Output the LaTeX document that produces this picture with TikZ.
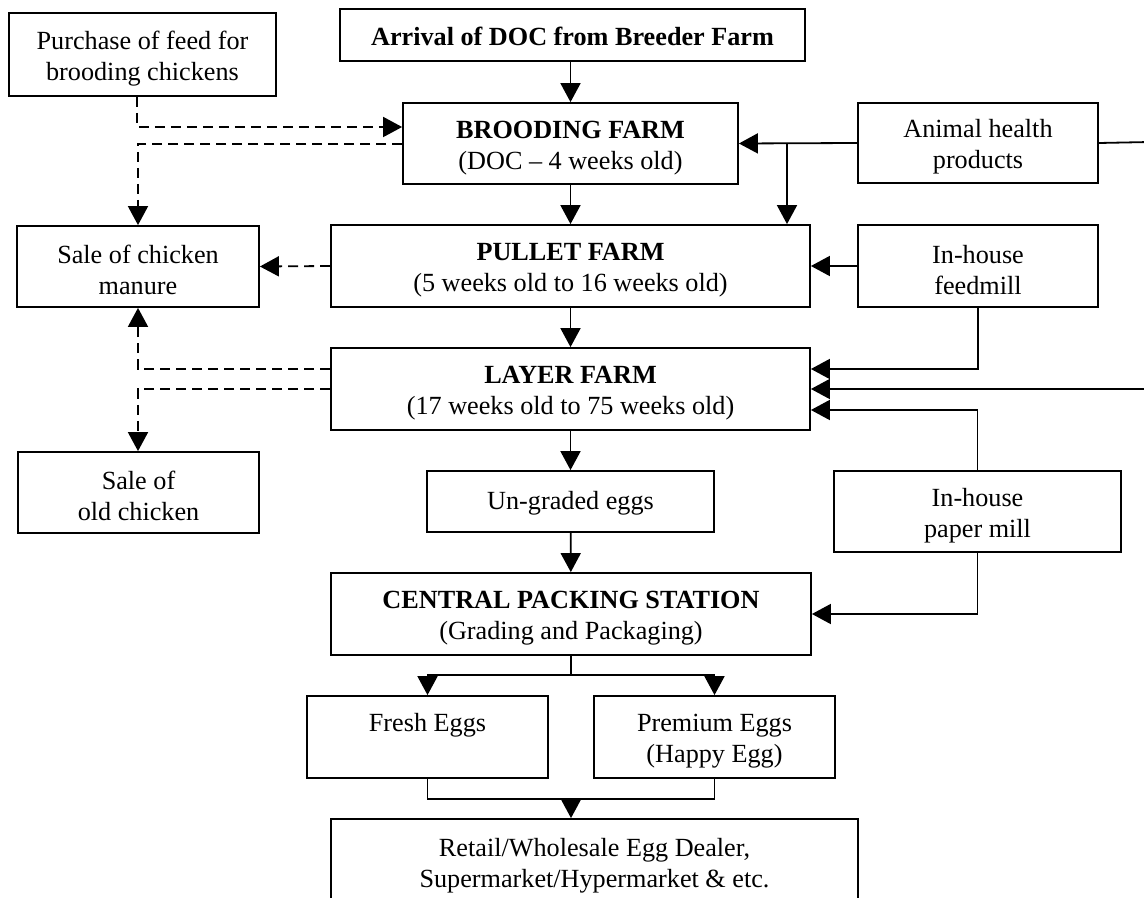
\documentclass[tikz,border=0pt]{standalone}
\usepackage{fontspec}
\setmainfont{Liberation Serif}
\usetikzlibrary{arrows.meta}
\begin{document}
\begin{tikzpicture}[x=0.5pt,y=-0.5pt,
  box/.style={draw,line width=0.9pt,inner sep=0pt,align=center,
    font=\fontsize{13.1}{15.5}\selectfont},
  % a tall invisible rule beside the text sets it slightly below the centre
  oneline/.style={box,execute at begin node={\rule{0pt}{11pt}}},
  twoline/.style={box,execute at begin node={\rule{0pt}{28.6pt}}},
  flow/.style={line width=0.9pt,-{Triangle[length=9.5pt,width=10pt]}},
  plain/.style={line width=0.9pt},
  side/.style={flow,dash pattern=on 5pt off 3pt},
]
\useasboundingbox (0,0) rectangle (1144,898);
\clip (0,0) rectangle (1144,898);

% main chain
\node[oneline,minimum width=232.5pt,minimum height=26pt] (arrival) at (572.5,35) {\textbf{Arrival of DOC from Breeder Farm}};
\node[twoline,minimum width=167.5pt,minimum height=40.5pt] (brooding) at (570.5,143.5) {\textbf{BROODING FARM}\\(DOC -- 4 weeks old)};
\node[twoline,minimum width=239.5pt,minimum height=41pt] (pullet) at (570.5,266) {\textbf{PULLET FARM}\\(5 weeks old to 16 weeks old)};
\node[twoline,minimum width=239.5pt,minimum height=41pt] (layer) at (570.5,389) {\textbf{LAYER FARM}\\(17 weeks old to 75 weeks old)};
\node[oneline,minimum width=143.5pt,minimum height=30.5pt] (ungraded) at (570.5,501.5) {Un-graded eggs};
\node[twoline,minimum width=240pt,minimum height=41pt] (central) at (571,614) {\textbf{CENTRAL PACKING STATION}\\(Grading and Packaging)};
\node[twoline,minimum width=120.5pt,minimum height=41pt] (fresh) at (427.5,737) {Fresh Eggs\\[-1pt]\strut};
\node[twoline,minimum width=120.5pt,minimum height=41pt] (premium) at (714.5,737) {Premium Eggs\\(Happy Egg)};
\node[twoline,minimum width=263.5pt,minimum height=43pt] (retail) at (594.5,862) {Retail/Wholesale Egg Dealer,\\Supermarket/Hypermarket \& etc.};

% left column
\node[twoline,minimum width=133.5pt,minimum height=41.5pt] (purchase) at (142.5,54.5) {Purchase of feed for\\brooding chickens};
\node[twoline,minimum width=121pt,minimum height=40.5pt] (manure) at (138,266.5) {Sale of chicken\\manure};
\node[twoline,minimum width=120.5pt,minimum height=40.5pt] (oldchicken) at (138.5,492.5) {Sale of\\old chicken};

% right column
\node[twoline,minimum width=120pt,minimum height=40pt] (animal) at (978,143) {Animal health\\products};
\node[twoline,minimum width=120pt,minimum height=41pt] (feedmill) at (978,266) {In-house\\feedmill};
\node[twoline,minimum width=143.5pt,minimum height=40.5pt] (paper) at (977.5,511.5) {In-house\\paper mill};

% bend points
\coordinate (pf) at (137,127);
\coordinate (bm) at (138,144);
\coordinate (lm) at (138,369);
\coordinate (lo) at (138,389);
\coordinate (ab) at (787,143);
\coordinate (fl) at (978,369);
\coordinate (edge) at (1150,142);
\coordinate (pl) at (977.5,410);
\coordinate (pc) at (977.5,614);
\coordinate (split) at (571,675);
\coordinate (join) at (571,799);

% production flow
\draw[flow] (arrival.south -| brooding.north) -- (brooding.north);
\draw[flow] (brooding) -- (pullet);
\draw[flow] (pullet) -- (layer);
\draw[flow] (layer) -- (ungraded);
\draw[flow] (ungraded) -- (central);
\draw[plain] (central.south) -- (split);
\draw[flow] (split) -| (fresh.north);
\draw[flow] (split) -| (premium.north);
\draw[plain] (fresh.south) |- (join);
\draw[plain] (premium.south) |- (join);
\draw[flow] (join) -- (join |- retail.north);

% by-products and purchased feed
\draw[side] (pf |- purchase.south) -- (pf) -- (pf -| brooding.west);
\draw[side] (bm -| brooding.west) -- (bm) -- (bm |- manure.north);
\draw[side] (pullet.west) -- (manure.east);
\draw[side] (lm -| layer.west) -- (lm) -- (lm |- manure.south);
\draw[side] (lo -| layer.west) -- (lo) -- (lo |- oldchicken.north);

% supporting units
\draw[flow] (animal.west) -- (brooding.east);
\draw[flow] (ab) -- (ab |- pullet.north);
\draw[flow] (animal.east) -- (edge) -- (edge |- layer.east) -- (layer.east);
\draw[flow] (feedmill.west) -- (pullet.east);
\draw[flow] (feedmill.south) -- (fl) -- (fl -| layer.east);
\draw[flow] (paper.north) -- (pl) -- (pl -| layer.east);
\draw[flow] (paper.south) -- (pc) -- (pc -| central.east);
\end{tikzpicture}
\end{document}
